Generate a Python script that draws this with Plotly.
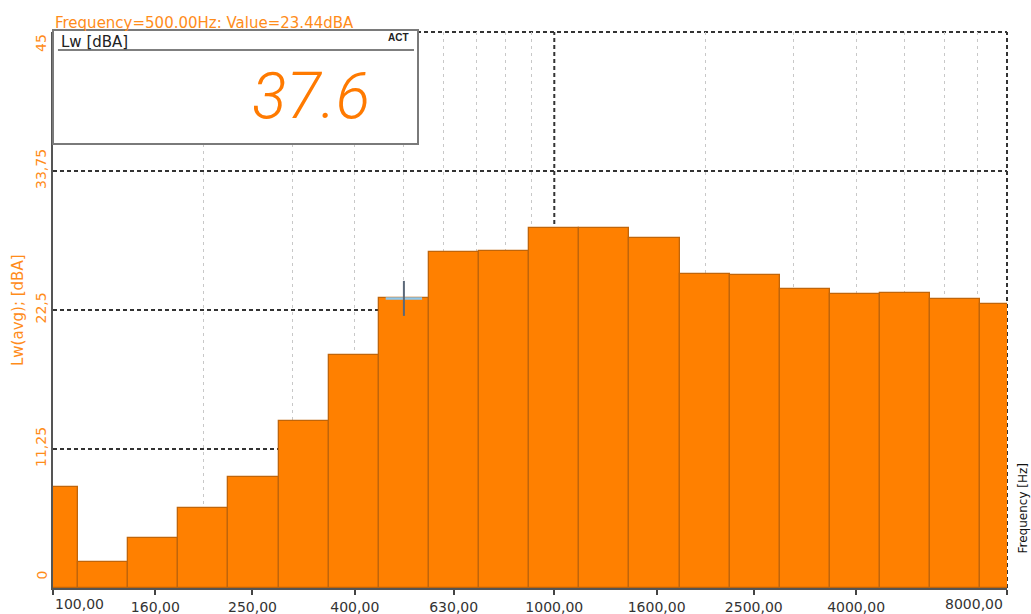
import math
import plotly.graph_objects as go

# 1/3-octave band sound power levels, Lw(avg) in dBA
bands_hz = [100, 125, 160, 200, 250, 315, 400, 500, 630, 800,
            1000, 1250, 1600, 2000, 2500, 3150, 4000, 5000, 6300, 8000]
lw_avg_dba = [8.2, 2.1, 4.07, 6.5, 8.96, 13.5, 18.86, 23.44, 27.17, 27.3,
              29.16, 29.1, 28.35, 25.4, 25.37, 24.2, 23.8, 23.9, 23.4, 22.96]

x_ticks_hz = [100, 160, 250, 400, 630, 1000, 1600, 2500, 4000, 8000]
x_tick_text = ["100,00", "160,00", "250,00", "400,00", "630,00",
               "1000,00", "1600,00", "2500,00", "4000,00", "8000,00"]
minor_grid_hz = [200, 300, 400, 500, 600, 700, 800, 900,
                 2000, 3000, 4000, 5000, 6000, 7000]
y_ticks = [0, 11.25, 22.5, 33.75, 45]
y_tick_text = ["0", "11,25", "22,5", "33,75", "45"]

cursor_hz = 500
cursor_value = 23.44
lw_display = "37.6"

F_MIN, F_MAX = 100, 8000
Y_MAX = 45

ORANGE = "#FF8000"
TEXT_ORANGE = "#FF8C1A"
FONT = "DejaVu Sans"


def band_pos(f):
    # exact base-10 third-octave band centre, on a log10 scale
    return round(10 * math.log10(f)) / 10


lg = math.log10
bar_x = [band_pos(f) for f in bands_hz]
band_width = 0.1

fig = go.Figure()

fig.add_trace(go.Bar(
    x=bar_x, y=lw_avg_dba, width=band_width,
    marker=dict(color=ORANGE, line=dict(color="#C0650A", width=1.3)),
    hoverinfo="skip", showlegend=False,
))

# cursor cross at the selected band
cx = band_pos(cursor_hz)
fig.add_trace(go.Scatter(
    x=[cx], y=[cursor_value], mode="markers",
    marker=dict(symbol="line-ew-open", size=26, color="#8EC8EE",
                line=dict(width=2.5)),
    hoverinfo="skip", showlegend=False,
))
fig.add_trace(go.Scatter(
    x=[cx], y=[cursor_value], mode="markers",
    marker=dict(symbol="line-ns-open", size=25, color="#5B6878",
                line=dict(width=2)),
    hoverinfo="skip", showlegend=False,
))

x_lo, x_hi = lg(F_MIN), lg(F_MAX)

fig.update_xaxes(
    range=[x_lo, x_hi], automargin=False,
    tickmode="array",
    tickvals=[lg(v) for v in x_ticks_hz],
    ticktext=[""] + x_tick_text[1:-1] + [""],
    ticks="outside", ticklen=5, tickwidth=1.5, tickcolor="#444",
    tickfont=dict(family=FONT, size=14, color="#333"),
    showgrid=False, zeroline=False,
    showline=True, linecolor="#555", linewidth=1.5,
    minor=dict(tickmode="array", tickvals=[lg(v) for v in minor_grid_hz],
               showgrid=True, gridcolor="#C8C8C8", griddash="3px,4px",
               gridwidth=1, ticks=""),
)
fig.update_yaxes(
    range=[0, Y_MAX], automargin=False,
    tickmode="array", tickvals=y_ticks,
    ticktext=[""] + y_tick_text[1:-1] + [""],
    tickangle=-90, ticks="",
    tickfont=dict(family=FONT, size=14, color=TEXT_ORANGE),
    showgrid=True, gridcolor="#333333", gridwidth=2, griddash="4px,3px",
    zeroline=False,
    showline=True, linecolor="#555", linewidth=1.5,
)

shapes = [
    # dotted major lines at 1000 Hz, the right edge and the top edge
    dict(type="line", xref="x", yref="paper", x0=3, x1=3, y0=0, y1=1,
         line=dict(color="#333333", width=2, dash="4px,3px"), layer="below"),
    dict(type="line", xref="paper", yref="paper", x0=1, x1=1, y0=0, y1=1,
         line=dict(color="#333333", width=2, dash="4px,3px"), layer="below"),
    dict(type="line", xref="paper", yref="paper", x0=0, x1=1, y0=1, y1=1,
         line=dict(color="#333333", width=2, dash="4px,3px"), layer="below"),
    # value display panel
    dict(type="rect", xref="paper", yref="paper",
         x0=0, x1=0.3826, y0=0.7986, y1=1.0036,
         fillcolor="white", line=dict(color="#7A7A7A", width=2), layer="above"),
    dict(type="line", xref="paper", yref="paper",
         x0=0.0052, x1=0.3784, y0=0.9677, y1=0.9677,
         line=dict(color="#555", width=1.5), layer="above"),
]

annotations = [
    dict(text="Frequency=500.00Hz: Value=23.44dBA", xref="paper", yref="paper",
         x=0, y=1, xanchor="left", yanchor="bottom", yshift=-2, showarrow=False,
         font=dict(family=FONT, size=15, color=TEXT_ORANGE)),
    dict(text="Lw(avg); [dBA]", xref="paper", yref="paper", x=0, y=0.5,
         xanchor="center", yanchor="middle", xshift=-35, textangle=-90,
         showarrow=False, font=dict(family=FONT, size=15, color=TEXT_ORANGE)),
    dict(text="Frequency [Hz]", xref="paper", yref="paper", x=1, y=0,
         xanchor="center", yanchor="bottom", xshift=15, yshift=32, textangle=-90,
         showarrow=False, font=dict(family=FONT, size=12, color="#111")),
    # end tick labels kept inside the axis span
    dict(text=x_tick_text[0], xref="paper", yref="paper", x=0, y=0,
         xanchor="left", yanchor="top", xshift=0, yshift=-6, showarrow=False,
         font=dict(family=FONT, size=14, color="#333")),
    dict(text=x_tick_text[-1], xref="paper", yref="paper", x=1, y=0,
         xanchor="right", yanchor="top", xshift=-2, yshift=-6, showarrow=False,
         font=dict(family=FONT, size=14, color="#333")),
    dict(text=y_tick_text[-1], xref="paper", yref="y", x=0, y=Y_MAX,
         xanchor="center", yanchor="top", xshift=-12, yshift=0, textangle=-90,
         showarrow=False, font=dict(family=FONT, size=14, color=TEXT_ORANGE)),
    dict(text=y_tick_text[0], xref="paper", yref="y", x=0, y=0,
         xanchor="center", yanchor="bottom", xshift=-12, yshift=6, textangle=-90,
         showarrow=False, font=dict(family=FONT, size=14, color=TEXT_ORANGE)),
    # value display panel texts
    dict(text="Lw [dBA]", xref="paper", yref="paper", x=0.006, y=0.982,
         xanchor="left", yanchor="middle", showarrow=False,
         font=dict(family=FONT, size=15, color="#222")),
    dict(text="<b>ACT</b>", xref="paper", yref="paper", x=0.375, y=0.99,
         xanchor="right", yanchor="middle", showarrow=False,
         font=dict(family="Liberation Sans", size=10, color="#222")),
    dict(text=lw_display, xref="paper", yref="paper", x=0.3294, y=0.884,
         xanchor="right", yanchor="middle", xshift=5, showarrow=False,
         font=dict(family="Roboto Light, Roboto", size=64, color="#FF7A00",
                   style="italic", weight=300)),
]

fig.update_layout(
    width=1031, height=614,
    margin=dict(l=53, r=24, t=32, b=26),
    paper_bgcolor="white", plot_bgcolor="white",
    shapes=shapes, annotations=annotations,
    bargap=0, showlegend=False,
)

fig.write_html("out.html")
